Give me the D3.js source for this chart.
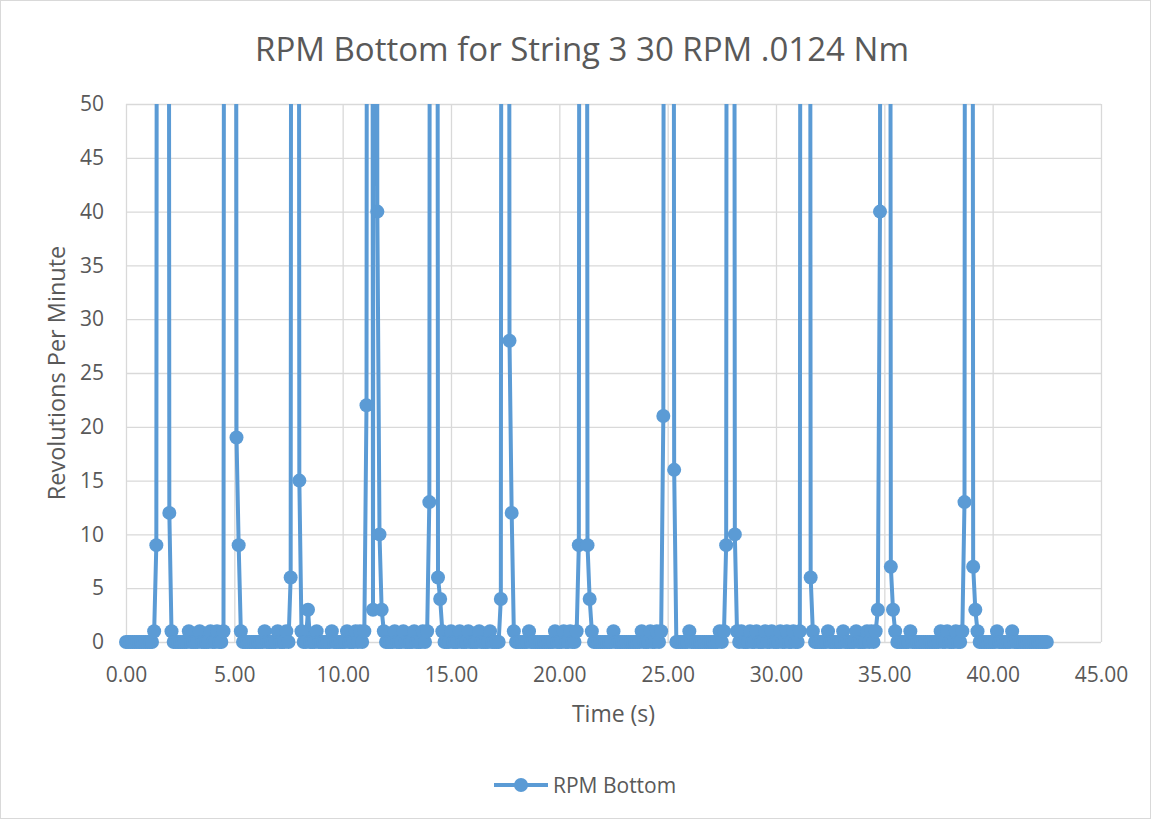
<!DOCTYPE html>
<html>
<head>
<meta charset="utf-8">
<script src="https://cdn.jsdelivr.net/npm/d3@7"></script>
<style>
  body { margin: 0; background: #fff; }
  text { font-family: "Open Sans", sans-serif; fill: #595959; }
</style>
</head>
<body>
<div id="chart"></div>
<script>
// data: one sample every 0.1 s, spikes go far above the 50 limit
var time = [
  0.0,0.1,0.2,0.3,0.4,0.5,0.6,0.7,0.8,0.9,
  1.0,1.1,1.2,1.3,1.4,1.5,1.6,1.7,1.8,1.9,
  2.0,2.1,2.2,2.3,2.4,2.5,2.6,2.7,2.8,2.9,
  3.0,3.1,3.2,3.3,3.4,3.5,3.6,3.7,3.8,3.9,
  4.0,4.1,4.2,4.3,4.4,4.5,4.6,4.7,4.8,4.9,
  5.0,5.1,5.2,5.3,5.4,5.5,5.6,5.7,5.8,5.9,
  6.0,6.1,6.2,6.3,6.4,6.5,6.6,6.7,6.8,6.9,
  7.0,7.1,7.2,7.3,7.4,7.5,7.6,7.7,7.8,7.9,
  8.0,8.1,8.2,8.3,8.4,8.5,8.6,8.7,8.8,8.9,
  9.0,9.1,9.2,9.3,9.4,9.5,9.6,9.7,9.8,9.9,
  10.0,10.1,10.2,10.3,10.4,10.5,10.6,10.7,10.8,10.9,
  11.0,11.1,11.2,11.3,11.4,11.5,11.6,11.7,11.8,11.9,
  12.0,12.1,12.2,12.3,12.4,12.5,12.6,12.7,12.8,12.9,
  13.0,13.1,13.2,13.3,13.4,13.5,13.6,13.7,13.8,13.9,
  14.0,14.1,14.2,14.3,14.4,14.5,14.6,14.7,14.8,14.9,
  15.0,15.1,15.2,15.3,15.4,15.5,15.6,15.7,15.8,15.9,
  16.0,16.1,16.2,16.3,16.4,16.5,16.6,16.7,16.8,16.9,
  17.0,17.1,17.2,17.3,17.4,17.5,17.6,17.7,17.8,17.9,
  18.0,18.1,18.2,18.3,18.4,18.5,18.6,18.7,18.8,18.9,
  19.0,19.1,19.2,19.3,19.4,19.5,19.6,19.7,19.8,19.9,
  20.0,20.1,20.2,20.3,20.4,20.5,20.6,20.7,20.8,20.9,
  21.0,21.1,21.2,21.3,21.4,21.5,21.6,21.7,21.8,21.9,
  22.0,22.1,22.2,22.3,22.4,22.5,22.6,22.7,22.8,22.9,
  23.0,23.1,23.2,23.3,23.4,23.5,23.6,23.7,23.8,23.9,
  24.0,24.1,24.2,24.3,24.4,24.5,24.6,24.7,24.8,24.9,
  25.0,25.1,25.2,25.3,25.4,25.5,25.6,25.7,25.8,25.9,
  26.0,26.1,26.2,26.3,26.4,26.5,26.6,26.7,26.8,26.9,
  27.0,27.1,27.2,27.3,27.4,27.5,27.6,27.7,27.8,27.9,
  28.0,28.1,28.2,28.3,28.4,28.5,28.6,28.7,28.8,28.9,
  29.0,29.1,29.2,29.3,29.4,29.5,29.6,29.7,29.8,29.9,
  30.0,30.1,30.2,30.3,30.4,30.5,30.6,30.7,30.8,30.9,
  31.0,31.1,31.2,31.3,31.4,31.5,31.6,31.7,31.8,31.9,
  32.0,32.1,32.2,32.3,32.4,32.5,32.6,32.7,32.8,32.9,
  33.0,33.1,33.2,33.3,33.4,33.5,33.6,33.7,33.8,33.9,
  34.0,34.1,34.2,34.3,34.4,34.5,34.6,34.7,34.8,34.9,
  35.0,35.1,35.2,35.3,35.4,35.5,35.6,35.7,35.8,35.9,
  36.0,36.1,36.2,36.3,36.4,36.5,36.6,36.7,36.8,36.9,
  37.0,37.1,37.2,37.3,37.4,37.5,37.6,37.7,37.8,37.9,
  38.0,38.1,38.2,38.3,38.4,38.5,38.6,38.7,38.8,38.9,
  39.0,39.1,39.2,39.3,39.4,39.5,39.6,39.7,39.8,39.9,
  40.0,40.1,40.2,40.3,40.4,40.5,40.6,40.7,40.8,40.9,
  41.0,41.1,41.2,41.3,41.4,41.5,41.6,41.7,41.8,41.9,
  42.0,42.1,42.2,42.3,42.4,42.5
];

var rpmBottom = [
  0,0,0,0,0,0,0,0,0,0,
  0,0,0,1,9,300,420,480,420,300,
  12,1,0,0,0,0,0,0,0,1,
  0,0,0,0,1,0,0,0,0,1,
  0,0,1,0,0,1,300,420,480,420,
  300,19,9,1,0,0,0,0,0,0,
  0,0,0,0,1,0,0,0,0,0,
  1,0,0,0,1,0,6,300,420,300,
  15,1,0,0,3,0,0,0,1,0,
  0,0,0,0,0,1,0,0,0,0,
  0,0,1,0,0,0,1,0,1,0,
  1,22,300,300,3,300,40,10,3,1,
  0,0,0,0,1,0,0,0,1,0,
  0,0,0,1,0,0,0,1,0,1,
  13,300,420,300,6,4,1,0,0,0,
  1,0,0,0,1,0,0,0,1,0,
  0,0,0,1,0,0,0,0,1,0,
  0,0,0,4,300,420,300,28,12,1,
  0,0,0,0,0,0,1,0,0,0,
  0,0,0,0,0,0,0,0,1,0,
  0,0,1,0,0,1,0,0,1,9,
  300,420,300,9,4,1,0,0,0,0,
  0,0,0,0,0,1,0,0,0,0,
  0,0,0,0,0,0,0,0,1,0,
  0,0,1,0,0,1,0,1,21,300,
  420,480,300,16,0,0,0,0,0,0,
  1,0,0,0,0,0,0,0,0,0,
  0,0,0,0,1,0,1,9,300,420,
  300,10,1,0,1,0,0,0,1,0,
  0,1,0,0,0,1,0,0,1,0,
  0,0,1,0,0,1,0,0,1,0,
  0,1,300,420,480,300,6,1,0,0,
  0,0,0,0,1,0,0,0,0,0,
  0,1,0,0,0,0,0,1,0,0,
  0,0,1,0,1,0,1,3,40,300,
  420,480,300,7,3,1,0,0,0,0,
  0,0,1,0,0,0,0,0,0,0,
  0,0,0,0,0,0,1,0,0,1,
  0,0,0,1,0,0,1,13,300,420,
  300,7,3,1,0,0,0,0,0,0,
  0,0,1,0,0,0,0,0,0,1,
  0,0,0,0,0,0,0,0,0,0,
  0,0,0,0,0,0
];

var xTicks = [0, 5, 10, 15, 20, 25, 30, 35, 40, 45];
var yTicks = [0, 5, 10, 15, 20, 25, 30, 35, 40, 45, 50];

var chartTitle = 'RPM Bottom for String 3 30 RPM .0124 Nm';
var xTitle = 'Time (s)';
var yTitle = 'Revolutions Per Minute';
var seriesName = 'RPM Bottom';

var blue = '#5b9bd5';
var grid = '#d9d9d9';

//set margin and sizes
var W = 1153, H = 821;
var margin = {top:104, bottom:179, right:52, left:126};
var w = W - margin.left - margin.right;
var h = H - margin.top - margin.bottom;

var root = d3.select('#chart')
    .append('svg')
    .attr('width', W)
    .attr('height', H);

// chart area outline
root.append('rect')
    .attr('x', 0.5).attr('y', 0.5)
    .attr('width', W - 3).attr('height', H - 3)
    .attr('fill', '#fff')
    .attr('stroke', grid);

var svg = root.append('g')
    .attr('transform', 'translate(' + margin.left + ',' + margin.top + ')');

var x = d3.scaleLinear().domain([0, 45]).range([0, w]);
var y = d3.scaleLinear().domain([0, 50]).range([h, 0]);

// gridlines
svg.append('g')
    .attr('transform', 'translate(0,' + h + ')')
    .call(d3.axisBottom(x).tickValues(xTicks).tickSize(-h).tickFormat(''))
    .call(function(g) { g.select('.domain').remove(); })
    .selectAll('line').attr('stroke', grid).attr('stroke-width', 1.3);

svg.append('g')
    .call(d3.axisLeft(y).tickValues(yTicks).tickSize(-w).tickFormat(''))
    .call(function(g) { g.select('.domain').remove(); })
    .selectAll('line').attr('stroke', grid).attr('stroke-width', 1.3);

// axes labels
svg.append('g')
    .attr('transform', 'translate(0,' + h + ')')
    .call(d3.axisBottom(x).tickValues(xTicks).tickSize(0).tickPadding(25).tickFormat(d3.format('.2f')))
    .call(function(g) { g.select('.domain').remove(); })
    .selectAll('text')
    .attr('font-size', 21)
    .attr('font-family', '"Open Sans", sans-serif')
    .attr('fill', '#595959');

svg.append('g')
    .call(d3.axisLeft(y).tickValues(yTicks).tickSize(0).tickPadding(22))
    .call(function(g) { g.select('.domain').remove(); })
    .selectAll('text')
    .attr('font-size', 21)
    .attr('font-family', '"Open Sans", sans-serif')
    .attr('fill', '#595959');

// clip so spikes are cut at the top like the original
svg.append('clipPath').attr('id', 'plotClip')
    .append('rect')
    .attr('x', -10).attr('y', 0)
    .attr('width', w + 20).attr('height', h + 12);

var pts = time.map(function(t, i) { return {t: t, v: rpmBottom[i]}; });

var line = d3.line()
    .x(function(d) { return x(d.t); })
    .y(function(d) { return y(d.v); });

var plot = svg.append('g').attr('clip-path', 'url(#plotClip)');

plot.append('path')
    .datum(pts)
    .attr('d', line)
    .attr('fill', 'none')
    .attr('stroke', blue)
    .attr('stroke-width', 4)
    .attr('stroke-linejoin', 'round');

plot.selectAll('circle')
    .data(pts)
    .enter()
    .append('circle')
    .attr('cx', function(d) { return x(d.t); })
    .attr('cy', function(d) { return y(d.v); })
    .attr('r', 7)
    .attr('fill', blue);

// titles
root.append('text')
    .attr('x', 582).attr('y', 61)
    .attr('text-anchor', 'middle')
    .attr('font-size', 33)
    .text(chartTitle);

root.append('text')
    .attr('x', margin.left + w / 2).attr('y', 722)
    .attr('text-anchor', 'middle')
    .attr('font-size', 23)
    .text(xTitle);

root.append('text')
    .attr('transform', 'translate(65,' + (margin.top + h / 2) + ') rotate(-90)')
    .attr('text-anchor', 'middle')
    .attr('font-size', 23.5)
    .text(yTitle);

// legend
var lg = root.append('g').attr('transform', 'translate(494,785)');
lg.append('line')
    .attr('x1', 0).attr('x2', 54)
    .attr('stroke', blue).attr('stroke-width', 4);
lg.append('circle')
    .attr('cx', 27).attr('r', 7).attr('fill', blue);
lg.append('text')
    .attr('x', 59).attr('dy', '0.36em')
    .attr('font-size', 21)
    .text(seriesName);
</script>
</body>
</html>
